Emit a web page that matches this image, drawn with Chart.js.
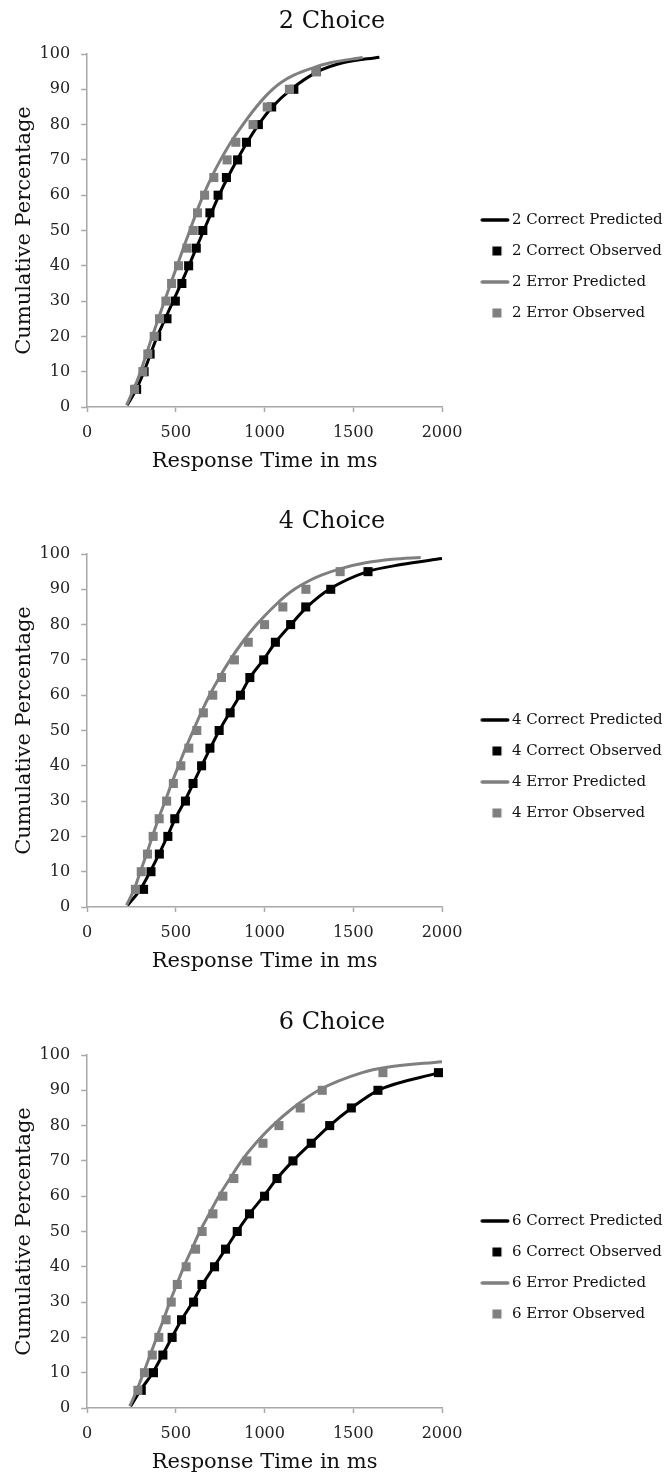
<!DOCTYPE html>
<html>
<head>
<meta charset="utf-8">
<script src="https://cdn.jsdelivr.net/npm/chart.js@4"></script>
<style>
  body { margin: 0; background: #fff; width: 664px; height: 1477px; position: relative; overflow: hidden; }
  canvas { position: absolute; left: 0; }
</style>
</head>
<body>
<canvas id="c2" width="664" height="476" style="top:0px"></canvas>
<canvas id="c4" width="664" height="476" style="top:500px"></canvas>
<canvas id="c6" width="664" height="476" style="top:1001px"></canvas>
<script>
// observed quantiles (cumulative %)
const obsPct = [5, 10, 15, 20, 25, 30, 35, 40, 45, 50, 55, 60, 65, 70, 75, 80, 85, 90, 95];

// 2 choice
const c2CorrectObs = [279, 321, 355, 392, 450, 497, 534, 572, 615, 652, 692, 738, 785, 848, 898, 965, 1040, 1165, 1291];
const c2ErrorObs   = [267, 314, 342, 378, 408, 444, 476, 515, 562, 598, 622, 662, 714, 789, 838, 935, 1015, 1140, 1291];
const c2CorrectPredPct = [0.5, 5, 10, 15, 20, 25, 30, 35, 40, 45, 50, 55, 60, 65, 70, 75, 80, 85, 90, 95, 97.5, 99.1];
const c2CorrectPredMs  = [225, 277, 320, 357, 395, 440, 485, 530, 573, 615, 657, 700, 744, 792, 845, 902, 966, 1043, 1150, 1300, 1440, 1647];
const c2ErrorPredPct = [0.5, 5, 10, 15, 20, 25, 30, 35, 40, 45, 50, 55, 60, 65, 70, 75, 80, 85, 88, 90, 92, 94, 96, 97.5, 99];
const c2ErrorPredMs  = [222, 262, 301, 334, 367, 401, 436, 471, 507, 542, 579, 615, 655, 700, 752, 810, 878, 953, 1005, 1045, 1095, 1165, 1270, 1370, 1553];

// 4 choice
const c4CorrectObs = [318, 360, 407, 455, 494, 554, 597, 645, 692, 744, 806, 864, 917, 995, 1061, 1147, 1232, 1373, 1583];
const c4ErrorObs   = [272, 305, 340, 372, 406, 448, 486, 528, 573, 618, 655, 708, 757, 830, 908, 1000, 1103, 1233, 1426];
const c4CorrectPredPct = [0.5, 5, 10, 15, 20, 25, 30, 35, 40, 45, 50, 55, 60, 65, 70, 75, 80, 85, 90, 95, 97, 98.7];
const c4CorrectPredMs  = [228, 300, 355, 405, 452, 496, 550, 598, 645, 694, 745, 803, 862, 918, 993, 1062, 1148, 1240, 1365, 1580, 1770, 2000];
const c4ErrorPredPct = [0.5, 5, 10, 15, 20, 25, 30, 35, 40, 45, 50, 55, 60, 65, 70, 75, 80, 85, 88, 90, 92, 94, 96, 97.5, 98.5, 99];
const c4ErrorPredMs  = [222, 265, 300, 335, 368, 402, 440, 476, 515, 555, 598, 642, 690, 745, 806, 875, 955, 1050, 1115, 1168, 1235, 1320, 1440, 1570, 1720, 1880];

// 6 choice
const c6CorrectObs = [305, 374, 427, 479, 532, 600, 647, 718, 780, 846, 915, 1000, 1070, 1160, 1263, 1367, 1489, 1639, 1980];
const c6ErrorObs   = [286, 323, 367, 404, 445, 474, 508, 558, 611, 648, 709, 765, 827, 900, 991, 1081, 1201, 1325, 1667];
const c6CorrectPredPct = [0.5, 5, 10, 15, 20, 25, 30, 35, 40, 45, 50, 55, 60, 65, 70, 75, 80, 85, 90, 95];
const c6CorrectPredMs  = [245, 300, 370, 425, 478, 532, 595, 650, 715, 780, 845, 915, 995, 1070, 1160, 1262, 1367, 1490, 1640, 1985];
const c6ErrorPredPct = [0.5, 5, 10, 15, 20, 25, 30, 35, 40, 45, 50, 55, 60, 65, 70, 75, 80, 85, 90, 95, 96.5, 98.1];
const c6ErrorPredMs  = [240, 280, 318, 355, 392, 430, 466, 505, 545, 590, 635, 688, 742, 805, 870, 950, 1045, 1160, 1305, 1550, 1690, 2000];

const xTicks = [0, 500, 1000, 1500, 2000];
const yTicks = [0, 10, 20, 30, 40, 50, 60, 70, 80, 90, 100];

const BLACK = '#000000';
const GRAY = '#7f7f7f';
const AXIS = '#a8a8a8';
const FONT = 'DejaVu Serif';

function pts(xs, ys) {
  return xs.map((x, i) => ({ x: x, y: ys[i] }));
}

// legend icons: line or square placed in the right part of a 60px image
function lineIcon(color) {
  const c = document.createElement('canvas');
  c.width = 60; c.height = 4;
  const g = c.getContext('2d');
  g.strokeStyle = color; g.lineWidth = 3.5; g.lineCap = 'round';
  g.beginPath(); g.moveTo(31, 2); g.lineTo(56.5, 2); g.stroke();
  return c;
}
function squareIcon(color) {
  const c = document.createElement('canvas');
  c.width = 60; c.height = 10;
  const g = c.getContext('2d');
  g.fillStyle = color;
  g.fillRect(41.25, 0.5, 9, 9);
  return c;
}

function makeChart(id, n, correctObs, errorObs, cPredPct, cPredMs, ePredPct, ePredMs) {
  const icons = [squareIcon(GRAY), lineIcon(GRAY), squareIcon(BLACK), lineIcon(BLACK)];
  // listed in reverse so that the later (error) series draw on top
  const datasets = [
    { label: n + ' Error Observed', data: pts(errorObs, obsPct), showLine: false,
      pointStyle: 'rect', pointRadius: 6.4, pointBackgroundColor: GRAY, pointBorderWidth: 0,
      backgroundColor: GRAY, borderColor: GRAY },
    { label: n + ' Error Predicted', data: pts(ePredMs, ePredPct), borderColor: GRAY,
      borderWidth: 3, pointRadius: 0, cubicInterpolationMode: 'monotone' },
    { label: n + ' Correct Observed', data: pts(correctObs, obsPct), showLine: false,
      pointStyle: 'rect', pointRadius: 6.4, pointBackgroundColor: BLACK, pointBorderWidth: 0,
      backgroundColor: BLACK, borderColor: BLACK },
    { label: n + ' Correct Predicted', data: pts(cPredMs, cPredPct), borderColor: BLACK,
      borderWidth: 3, pointRadius: 0, cubicInterpolationMode: 'monotone' }
  ];
  datasets.forEach(d => { d.clip = false; });

  return new Chart(document.getElementById(id), {
    type: 'line',
    data: { datasets: datasets },
    options: {
      responsive: false,
      animation: false,
      events: [],
      layout: { padding: { left: 0, right: 0, top: 0, bottom: 0 } },
      plugins: {
        tooltip: { enabled: false },
        title: {
          display: true, text: n + ' Choice', color: '#111',
          font: { family: FONT, size: 24, weight: 'normal' },
          padding: { top: 7.6, bottom: 17.6 }
        },
        legend: {
          position: 'right',
          reverse: true,
          maxWidth: 222,
          title: { display: true, text: '', padding: { top: 0, bottom: 42.6 } },
          labels: {
            usePointStyle: true,
            pointStyleWidth: 46.5,
            padding: 16,
            color: '#111',
            font: { family: FONT, size: 15 },
            generateLabels(chart) {
              const items = Chart.defaults.plugins.legend.labels.generateLabels(chart);
              items.forEach(it => { it.pointStyle = icons[it.datasetIndex]; });
              return items;
            }
          }
        }
      },
      scales: {
        x: {
          type: 'linear', min: 0, max: 2000,
          afterBuildTicks: s => { s.ticks = xTicks.map(v => ({ value: v })); },
          ticks: { color: '#222', padding: 11, font: { family: FONT, size: 16 }, callback: v => String(v) },
          grid: { drawOnChartArea: false, tickLength: 5, tickColor: AXIS, tickWidth: 1.5 },
          border: { color: AXIS, width: 1.5 },
          title: {
            display: true, text: 'Response Time in ms', color: '#111',
            font: { family: FONT, size: 21 }, padding: { top: -3.9, bottom: 1.5 }
          }
        },
        y: {
          min: 0, max: 100,
          afterBuildTicks: s => { s.ticks = yTicks.map(v => ({ value: v })); },
          ticks: { color: '#222', padding: 11, font: { family: FONT, size: 16 } },
          grid: { drawOnChartArea: false, tickLength: 6, tickColor: AXIS, tickWidth: 1.5 },
          border: { color: AXIS, width: 1.5 },
          title: {
            display: true, text: 'Cumulative Percentage', color: '#111',
            font: { family: FONT, size: 21 }, padding: { top: 12.4, bottom: -9 }
          }
        }
      }
    }
  });
}

makeChart('c2', 2, c2CorrectObs, c2ErrorObs, c2CorrectPredPct, c2CorrectPredMs, c2ErrorPredPct, c2ErrorPredMs);
makeChart('c4', 4, c4CorrectObs, c4ErrorObs, c4CorrectPredPct, c4CorrectPredMs, c4ErrorPredPct, c4ErrorPredMs);
makeChart('c6', 6, c6CorrectObs, c6ErrorObs, c6CorrectPredPct, c6CorrectPredMs, c6ErrorPredPct, c6ErrorPredMs);
</script>
</body>
</html>
